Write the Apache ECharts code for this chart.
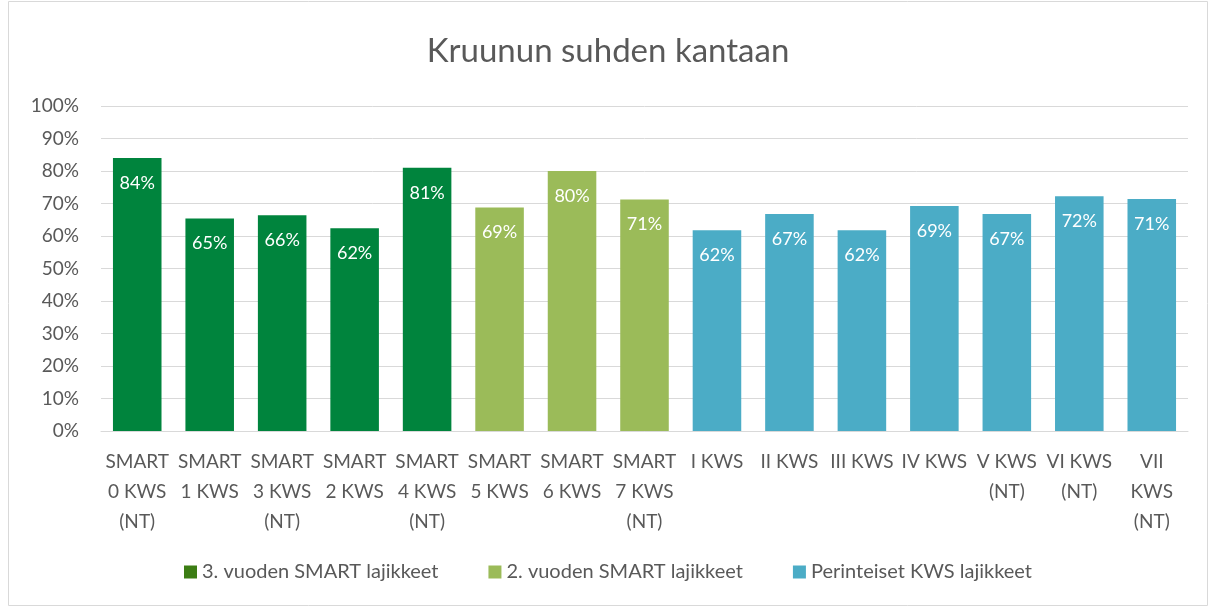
<!DOCTYPE html>
<html>
<head>
<meta charset="utf-8">
<script src="https://cdn.jsdelivr.net/npm/echarts@6/dist/echarts.min.js"></script>
<style>
  html, body { margin: 0; padding: 0; background: #fff; }
  #chart { width: 1216px; height: 608px; }
</style>
</head>
<body>
<div id="chart"></div>
<script>
// kategoriat ja arvot
var categories = [
  'SMART\n0 KWS\n(NT)', 'SMART\n1 KWS', 'SMART\n3 KWS\n(NT)', 'SMART\n2 KWS', 'SMART\n4 KWS\n(NT)',
  'SMART\n5 KWS', 'SMART\n6 KWS', 'SMART\n7 KWS\n(NT)',
  'I KWS', 'II KWS', 'III KWS', 'IV KWS', 'V KWS\n(NT)', 'VI KWS\n(NT)', 'VII\nKWS\n(NT)'
];
var values = [0.84, 0.654, 0.664, 0.624, 0.81, 0.688, 0.80, 0.712, 0.618, 0.668, 0.618, 0.692, 0.668, 0.722, 0.714];
var groupOf = [0, 0, 0, 0, 0, 1, 1, 1, 2, 2, 2, 2, 2, 2, 2];
var groupNames = ['3. vuoden SMART lajikkeet', '2. vuoden SMART lajikkeet', 'Perinteiset KWS lajikkeet'];
var groupColors = ['#00843d', '#9bbb59', '#4bacc6'];
var legendColors = ['#3c7d14', '#9bbb59', '#4bacc6'];
var yTicks = [0, 0.1, 0.2, 0.3, 0.4, 0.5, 0.6, 0.7, 0.8, 0.9, 1.0];

var chart = echarts.init(document.getElementById('chart'));
var font = 'Lato, "Open Sans", sans-serif';
var grey = '#595959';

var series = [];
groupNames.forEach(function (name, g) {
  series.push({
    name: name,
    type: 'bar',
    stack: 'all',
    barCategoryGap: '33%',
    itemStyle: { color: groupColors[g] },
    label: {
      show: true,
      position: 'insideTop',
      distance: 16,
      color: '#fff',
      fontSize: 18,
      fontFamily: font,
      formatter: function (p) { return Math.round(p.value * 100) + '%'; }
    },
    data: values.map(function (v, i) { return groupOf[i] === g ? v : '-'; })
  });
});

chart.setOption({
  animation: false,
  title: {
    text: 'Kruunun suhden kantaan',
    left: 'center',
    top: 30,
    textStyle: { fontSize: 33, fontWeight: 'normal', color: grey, fontFamily: font }
  },
  graphic: [{
    type: 'rect',
    shape: { x: 8.5, y: 1.5, width: 1199, height: 604 },
    style: { fill: 'none', stroke: '#d9d9d9', lineWidth: 1 },
    silent: true
  }],
  legend: {
    bottom: 21,
    left: 'center',
    itemGap: 50,
    itemWidth: 13,
    itemHeight: 13,
    icon: 'rect',
    textStyle: { fontSize: 20, color: grey, fontFamily: font },
    data: groupNames.map(function (n, g) { return { name: n, itemStyle: { color: legendColors[g] } }; })
  },
  grid: { left: 101, right: 28, top: 106, bottom: 177 },
  xAxis: {
    type: 'category',
    data: categories,
    axisLine: { lineStyle: { color: '#d9d9d9' } },
    axisTick: { show: false },
    axisLabel: {
      interval: 0,
      fontSize: 19,
      lineHeight: 30,
      color: grey,
      fontFamily: font,
      margin: 16
    }
  },
  yAxis: {
    type: 'value',
    min: yTicks[0],
    max: yTicks[yTicks.length - 1],
    interval: 0.1,
    axisLine: { show: false },
    axisTick: { show: false },
    splitLine: { lineStyle: { color: '#d9d9d9', width: 1 } },
    axisLabel: {
      fontSize: 19,
      color: grey,
      fontFamily: font,
      margin: 22,
      formatter: function (v) { return Math.round(v * 100) + '%'; }
    }
  },
  series: series
});
</script>
</body>
</html>
